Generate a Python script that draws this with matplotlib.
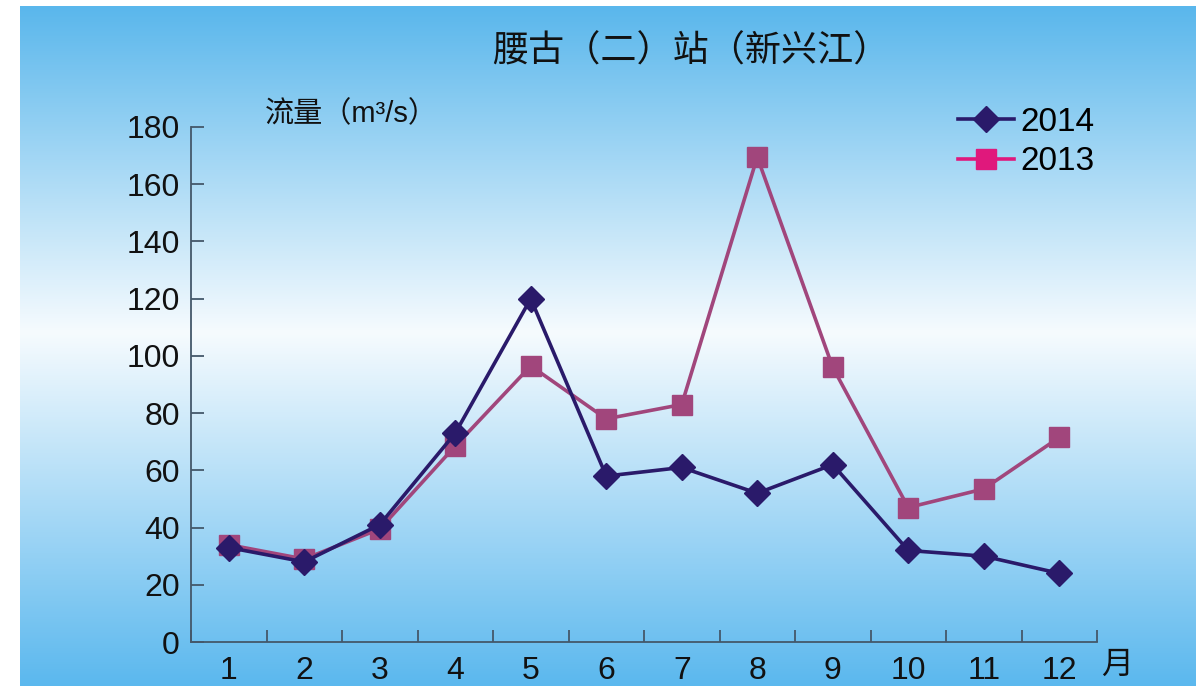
import numpy as np
import matplotlib.pyplot as plt
from matplotlib.colors import LinearSegmentedColormap
from matplotlib.lines import Line2D

plt.rcParams['font.family'] = ['Liberation Sans', 'Noto Sans CJK SC']

months = ['1', '2', '3', '4', '5', '6', '7', '8', '9', '10', '11', '12']
flow_2014 = [33, 28, 41, 73, 120, 58, 61, 52, 62, 32, 30, 24]
flow_2013 = [34, 29, 39.5, 68.5, 96.5, 78, 83, 169.5, 96, 47, 53.5, 71.5]

W, H = 1196, 686
fig = plt.figure(figsize=(W / 100, H / 100), dpi=100)
fig.patch.set_facecolor('white')

# gradient background (blue - white - blue), white margin left/top
bg = fig.add_axes([20 / W, 0, 1 - 20 / W, 1 - 6 / H])
bg.set_axis_off()
cmap = LinearSegmentedColormap.from_list(
    'bg', [(0.0, '#5ab7ec'), (0.48, '#f6fbfe'), (1.0, '#5bb8ee')])
grad = np.linspace(0, 1, 256).reshape(-1, 1)
bg.imshow(grad, cmap=cmap, aspect='auto', extent=[0, 1, 1, 0])
bg.set_xlim(0, 1)
bg.set_ylim(1, 0)

ax = fig.add_axes([191 / W, 1 - 642 / H, (1097 - 191) / W, (642 - 127) / H])
ax.patch.set_alpha(0)

x = np.arange(1, len(months) + 1)
c14 = '#2a1a6a'
c13 = '#a1467c'
ax.plot(x, flow_2014, color=c14, lw=2.6, marker='D', ms=13, mec=c14, mfc=c14, zorder=3)
ax.plot(x, flow_2013, color=c13, lw=2.6, marker='s', ms=14, mec=c13, mfc=c13, zorder=2)

ax.set_xlim(0.5, 12.5)
ax.set_ylim(0, 180)
ax.set_yticks(np.arange(0, 181, 20))
ax.set_xticks(np.arange(0.5, 12.6, 1))
ax.set_xticklabels([])
ax.set_xticks(x, minor=True)
ax.set_xticklabels(months, minor=True)

axis_col = '#44586a'
for s in ['top', 'right']:
    ax.spines[s].set_visible(False)
for s in ['left', 'bottom']:
    ax.spines[s].set_color(axis_col)
    ax.spines[s].set_linewidth(1.3)
ax.tick_params(axis='y', direction='in', length=9, width=1.3, color=axis_col, labelsize=23,
               labelcolor='#111111', pad=8)
ax.tick_params(axis='x', which='major', direction='in', length=9, width=1.3, color=axis_col)
ax.tick_params(axis='x', which='minor', length=0, labelsize=23, labelcolor='#111111', pad=10)

fig.text(691 / W, 1 - 52 / H, '腰古（二）站（新兴江）', fontsize=26, ha='center', va='center',
         color='#111111')
fig.text(265 / W, 1 - 114 / H, '流量（m³/s）', fontsize=21, ha='left', va='center',
         color='#111111')
fig.text(1117 / W, 1 - 666 / H, '月', fontsize=23, ha='center', va='center', color='#111111')

handles = [
    Line2D([], [], color=c14, lw=2.6, marker='D', ms=13, mfc=c14, mec=c14),
    Line2D([], [], color='#e0187c', lw=2.6, marker='s', ms=14, mfc='#e0187c', mec='#e0187c'),
]
fig.legend(handles, ['2014', '2013'], loc='upper right', bbox_to_anchor=(1125 / W, 1 - 77 / H),
           frameon=False, fontsize=24, handlelength=1.7, handletextpad=0.2, labelspacing=0.25)

fig.savefig('out.png', dpi=100)
